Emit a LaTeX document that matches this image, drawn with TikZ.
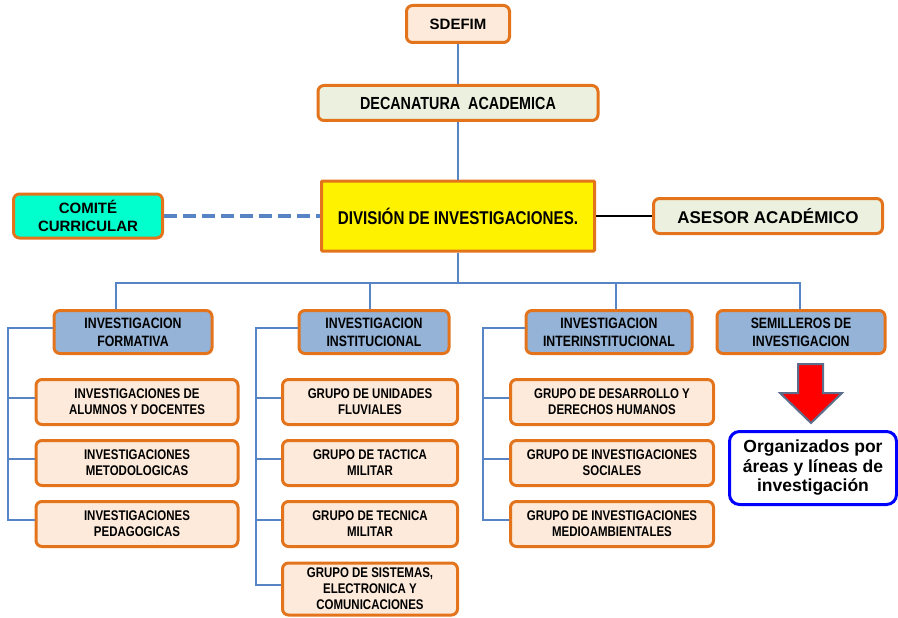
\documentclass[tikz,border=0pt]{standalone}
\usepackage{fontspec}
\setmainfont{Liberation Sans}
\newfontfamily\narrowfont{Liberation Sans}[FakeStretch=0.82]
\definecolor{boxline}{RGB}{228,116,28}
\definecolor{peach}{RGB}{253,234,218}
\definecolor{sage}{RGB}{235,241,222}
\definecolor{levelblue}{RGB}{149,179,215}
\definecolor{linkblue}{RGB}{86,132,196}
\definecolor{teal}{RGB}{0,255,204}
\definecolor{slate}{RGB}{92,110,140}

\begin{document}
\begin{tikzpicture}[x=1pt, y=-1pt]
        \tikzstyle{box}=[draw=boxline,line width=3pt,rounded corners=6pt,inner sep=0pt,align=center,text=black]
        \tikzstyle{level}=[box,fill=levelblue,minimum height=43pt,font=\narrowfont\bfseries\fontsize{15}{18}\selectfont]
        \tikzstyle{item}=[box,fill=peach,minimum height=45pt,font=\narrowfont\bfseries\fontsize{14}{16}\selectfont]
        \tikzstyle{link}=[draw=linkblue,line width=2.7pt]

        \useasboundingbox (0,0) rectangle (898,618);

        \node[box,fill=peach,minimum width=103pt,minimum height=37pt,font=\bfseries\fontsize{15}{18}\selectfont] (D_1) at (458,24) {SDEFIM};
        \node[box,fill=sage,minimum width=280pt,minimum height=35pt,font=\narrowfont\bfseries\fontsize{17.5}{20}\selectfont] (D_2) at (458,103) {DECANATURA\ \ ACADEMICA};
        \node[box,fill=yellow,rounded corners=1pt,minimum width=273pt,minimum height=70pt,font=\narrowfont\bfseries\fontsize{18.5}{22}\selectfont] (D_3) at (458,216) {DIVISIÓN DE INVESTIGACIONES.};
        \node[box,fill=teal,minimum width=149pt,minimum height=44pt,font=\bfseries\fontsize{15}{18}\selectfont] (C_1) at (88,216) {COMITÉ\\CURRICULAR};
        \node[box,fill=sage,minimum width=229pt,minimum height=35pt,font=\bfseries\fontsize{17}{20}\selectfont] (A_1) at (768,216) {ASESOR ACADÉMICO};

        \node[level,minimum width=158pt] (L_1) at (133,332) {INVESTIGACION\\FORMATIVA};
        \node[level,minimum width=150pt] (L_2) at (374,332) {INVESTIGACION\\INSTITUCIONAL};
        \node[level,minimum width=166pt] (L_3) at (609,332) {INVESTIGACION\\INTERINSTITUCIONAL};
        \node[level,minimum width=168pt] (L_4) at (801,332) {SEMILLEROS DE\\INVESTIGACION};

        \node[item,minimum width=202pt] (F_1) at (137,402) {INVESTIGACIONES DE\\ALUMNOS Y DOCENTES};
        \node[item,minimum width=202pt] (F_2) at (137,463) {INVESTIGACIONES\\METODOLOGICAS};
        \node[item,minimum width=202pt] (F_3) at (137,524) {INVESTIGACIONES\\PEDAGOGICAS};

        \node[item,minimum width=175pt] (I_1) at (370,402) {GRUPO DE UNIDADES\\FLUVIALES};
        \node[item,minimum width=175pt] (I_2) at (370,463) {GRUPO DE TACTICA\\MILITAR};
        \node[item,minimum width=175pt] (I_3) at (370,524) {GRUPO DE TECNICA\\MILITAR};
        \node[item,minimum width=175pt,minimum height=52pt] (I_4) at (370,589) {GRUPO DE SISTEMAS,\\ELECTRONICA Y\\COMUNICACIONES};

        \node[item,minimum width=203pt] (E_1) at (612,402) {GRUPO DE DESARROLLO Y\\DERECHOS HUMANOS};
        \node[item,minimum width=203pt] (E_2) at (612,463) {GRUPO DE INVESTIGACIONES\\SOCIALES};
        \node[item,minimum width=203pt] (E_3) at (612,524) {GRUPO DE INVESTIGACIONES\\MEDIOAMBIENTALES};

        \node[box,draw=blue,fill=white,rounded corners=10pt,minimum width=167pt,minimum height=73pt,font=\bfseries\fontsize{17.5}{19.5}\selectfont] (O_1) at (813,468) {Organizados por\\áreas y líneas de\\investigación};

        \draw[slate,line width=2pt,fill=red,line join=miter] (798,364) -- (823,364) -- (823,393) -- (842,393) -- (811,423) -- (780,393) -- (798,393) -- cycle;

        \draw[link] (D_1) -- (D_2);
        \draw[link] (D_2) -- (D_3);
        \draw[linkblue,line width=4.5pt,dash pattern=on 13pt off 6pt] (C_1) -- (D_3);
        \draw[line width=1.5pt] (D_3) -- (A_1);

        \coordinate (B) at (458,283);
        \draw[link] (D_3) -- (B);
        \draw[link] ([xshift=-17pt]L_1.north) |- (B) -| ([xshift=-1pt]L_4.north);
        \draw[link] (B) -| ([xshift=-4pt]L_2.north);
        \draw[link] (B) -| ([xshift=7pt]L_3.north);

        \coordinate (S_1) at (8,328);
        \coordinate (S_2) at (256,328);
        \coordinate (S_3) at (483,328);
        \draw[link] ([yshift=4pt]L_1.west) -- (S_1) |- ([yshift=4pt]F_3.west);
        \draw[link] ([yshift=4pt]L_2.west) -- (S_2) |- ([yshift=4pt]I_4.west);
        \draw[link] ([yshift=4pt]L_3.west) -- (S_3) |- ([yshift=4pt]E_3.west);
        \foreach \i in {1,2} {
            \draw[link] (S_1 |- F_\i.west) ++(0,-4) -- ([yshift=4pt]F_\i.west);
            \draw[link] (S_3 |- E_\i.west) ++(0,-4) -- ([yshift=4pt]E_\i.west);
        }
        \foreach \i in {1,2,3}
            \draw[link] (S_2 |- I_\i.west) ++(0,-4) -- ([yshift=4pt]I_\i.west);
\end{tikzpicture}
\end{document}
